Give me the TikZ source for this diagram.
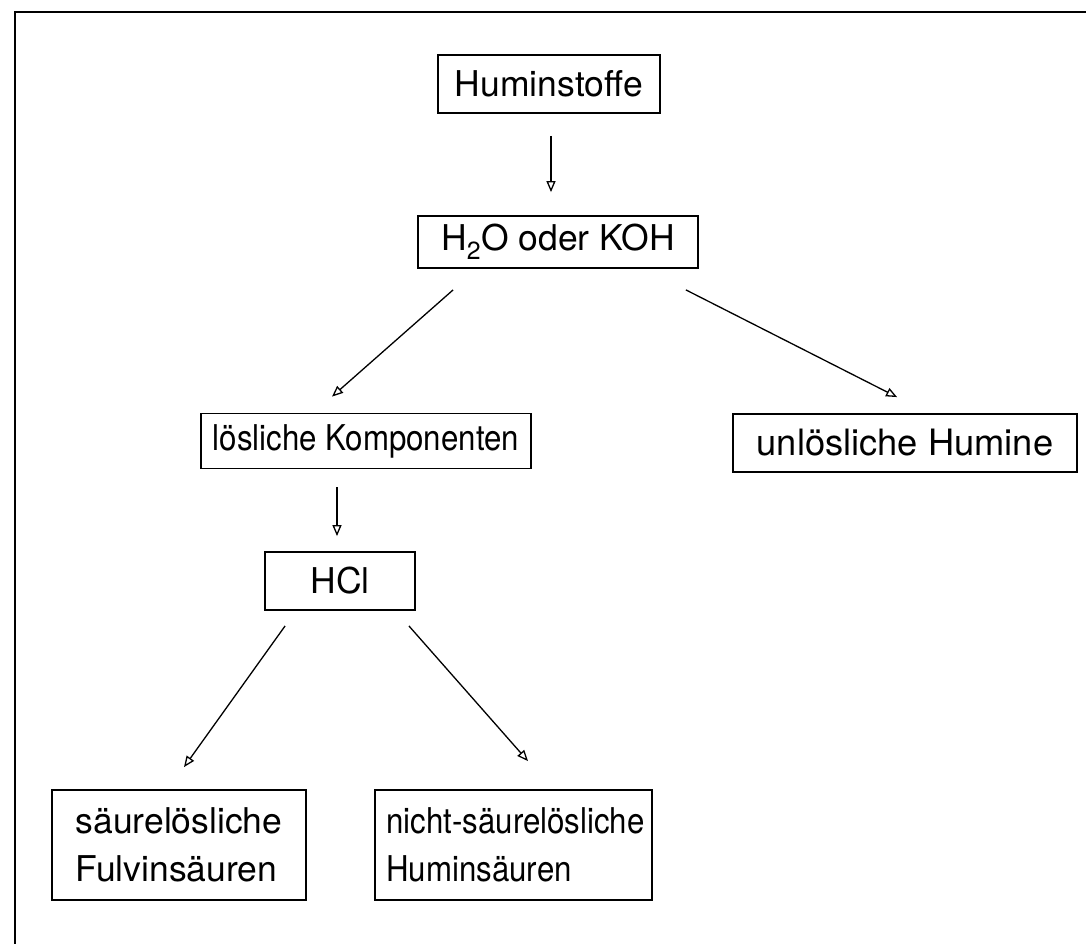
\documentclass[tikz,border=0pt]{standalone}
\usepackage{fontspec}
\setmainfont{TeX Gyre Heros}
\newfontfamily\condensedfont[FakeStretch=0.88]{TeX Gyre Heros}
\usetikzlibrary{arrows.meta,calc}
\begin{document}
\begin{tikzpicture}[x=1pt,y=-1pt,
  box/.style={draw, line width=1.8pt, inner sep=0pt, font=\fontsize{35.5}{48}\selectfont},
  narrowtext/.style={font=\fontsize{35.5}{48}\condensedfont},
  widetext/.style={font=\fontsize{36.3}{48}\selectfont},
  flow/.style={line width=1.3pt, -{Triangle[open,length=11pt,width=9pt]}}]
\useasboundingbox (0,0) rectangle (1086,944);
% page frame (top and left edges)
\draw[line width=2.2pt] (15,944) -- (15,12) -- (1086,12);

% boxes
\node[box, minimum width=222pt, minimum height=58pt] (hum) at (549,84) {Huminstoffe};
\node[box, minimum width=280pt, minimum height=52pt] (solv) at (558,242) {H\textsubscript{2}O oder KOH};
\node[box, narrowtext, minimum width=330pt, minimum height=55pt] (sol) at (366,441) {lösliche Komponenten};
\node[box, widetext, minimum width=344pt, minimum height=58pt] (insol) at (905,443) {unlösliche Humine};
\node[box, minimum width=150pt, minimum height=58pt] (hcl) at (340,581) {HCl};
\node[box, minimum width=254pt, minimum height=110pt, align=left] (fulv) at (179,845) {säurelösliche\\Fulvinsäuren};
\node[box, narrowtext, minimum width=277pt, minimum height=110pt, align=left] (humac) at (513.5,845) {\hspace*{4pt}nicht-säurelösliche\\\hspace*{4pt}Huminsäuren};

% arrow end points, placed relative to their boxes
\coordinate (humS)  at ($(hum.south)+(2,22)$);
\coordinate (solvN) at ($(solv.north)+(-7,-23)$);
\coordinate (solvL) at ($(solv.south west)+(36,21)$);
\coordinate (solvR) at ($(solv.south east)+(-13,21)$);
\coordinate (solN)  at ($(sol.north)+(-34,-16)$);
\coordinate (insolN) at ($(insol.north west)+(165,-16)$);
\coordinate (solS)  at ($(sol.south)+(-29,18)$);
\coordinate (hclN)  at ($(hcl.north)+(-3,-15)$);
\coordinate (hclL)  at ($(hcl.south west)+(21,15)$);
\coordinate (hclR)  at ($(hcl.south east)+(-7,15)$);
\coordinate (fulvN) at ($(fulv.north)+(5,-22)$);
\coordinate (humacN) at ($(humac.north)+(14.5,-28)$);

% connectors
\draw[flow] (humS) -- (solvN);
\draw[flow] (solvL) -- (solN);
\draw[flow] (solvR) -- (insolN);
\draw[flow] (solS) -- (hclN);
\draw[flow] (hclL) -- (fulvN);
\draw[flow] (hclR) -- (humacN);
\end{tikzpicture}
\end{document}
